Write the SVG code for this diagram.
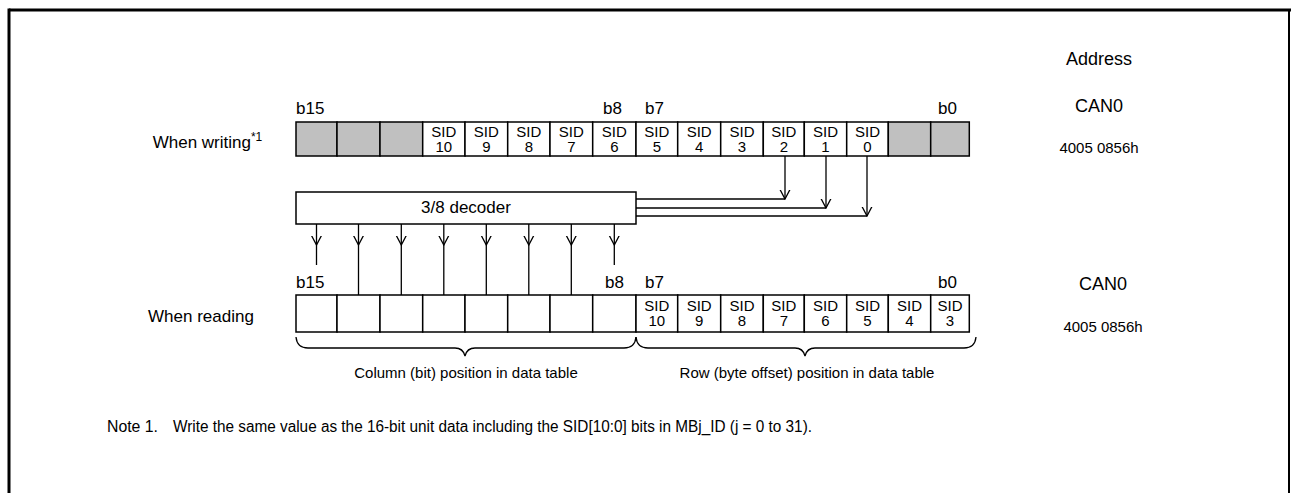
<svg xmlns="http://www.w3.org/2000/svg" width="1291" height="493" viewBox="0 0 1291 493">
<style>
text{font-family:"Liberation Sans",Arial,sans-serif;fill:#000}
.lbl{font-size:17px}
.sid{font-size:15px;text-anchor:middle}
.addr{font-size:18px;text-anchor:middle}
.hex{font-size:15px;text-anchor:middle}
.small{font-size:15px;text-anchor:middle}
.cell{fill:#fff;stroke:#000;stroke-width:1.5}
.grey{fill:#c0c0c0;stroke:#000;stroke-width:1.5}
.ln{fill:none;stroke:#000;stroke-width:1.3}
</style>
<defs>
<marker id="v" viewBox="0 0 10 12" refX="9.5" refY="6" markerWidth="10" markerHeight="12" markerUnits="userSpaceOnUse" orient="auto">
<path d="M0,1 L9.5,6 L0,11" fill="none" stroke="#000" stroke-width="1.3"/>
</marker>
</defs>
<rect width="1291" height="493" fill="#fff"/>
<g id="frame">
<line x1="9" y1="10" x2="1291" y2="10" stroke="#000" stroke-width="3"/>
<line x1="9" y1="8.5" x2="9" y2="493" stroke="#000" stroke-width="3"/>
<line x1="1289" y1="10" x2="1289" y2="493" stroke="#000" stroke-width="2"/>
</g>
<g id="address-labels">
<text class="addr" x="1099" y="65">Address</text>
<text class="addr" x="1099" y="112">CAN0</text>
<text class="hex" x="1099" y="153">4005 0856h</text>
<text class="addr" x="1103" y="290">CAN0</text>
<text class="hex" x="1103" y="332">4005 0856h</text>
</g>
<g id="write-register">
<text class="lbl" x="152.7" y="148">When writing<tspan font-size="12" dy="-7">*1</tspan></text>
<text class="lbl" x="296" y="114">b15</text>
<text class="lbl" x="603" y="114">b8</text>
<text class="lbl" x="645" y="114">b7</text>
<text class="lbl" x="938" y="114">b0</text>
<rect class="grey" x="296" y="122" width="41" height="34"/>
<rect class="grey" x="337" y="122" width="43" height="34"/>
<rect class="grey" x="380" y="122" width="42.7" height="34"/>
<rect class="cell" x="422.7" y="122" width="42.3" height="34"/>
<rect class="cell" x="465" y="122" width="42.7" height="34"/>
<rect class="cell" x="507.7" y="122" width="42.3" height="34"/>
<rect class="cell" x="550" y="122" width="42.7" height="34"/>
<rect class="cell" x="592.7" y="122" width="43.3" height="34"/>
<rect class="cell" x="636" y="122" width="41.7" height="34"/>
<rect class="cell" x="677.7" y="122" width="43" height="34"/>
<rect class="cell" x="720.7" y="122" width="42.6" height="34"/>
<rect class="cell" x="763.3" y="122" width="41" height="34"/>
<rect class="cell" x="804.3" y="122" width="42.4" height="34"/>
<rect class="cell" x="846.7" y="122" width="41.6" height="34"/>
<rect class="grey" x="888.3" y="122" width="42.4" height="34"/>
<rect class="grey" x="930.7" y="122" width="38.6" height="34"/>
<text class="sid" x="443.8" y="137">SID</text><text class="sid" x="443.8" y="152">10</text>
<text class="sid" x="486.3" y="137">SID</text><text class="sid" x="486.3" y="152">9</text>
<text class="sid" x="528.8" y="137">SID</text><text class="sid" x="528.8" y="152">8</text>
<text class="sid" x="571.3" y="137">SID</text><text class="sid" x="571.3" y="152">7</text>
<text class="sid" x="614.3" y="137">SID</text><text class="sid" x="614.3" y="152">6</text>
<text class="sid" x="656.8" y="137">SID</text><text class="sid" x="656.8" y="152">5</text>
<text class="sid" x="699.2" y="137">SID</text><text class="sid" x="699.2" y="152">4</text>
<text class="sid" x="742" y="137">SID</text><text class="sid" x="742" y="152">3</text>
<text class="sid" x="783.8" y="137">SID</text><text class="sid" x="783.8" y="152">2</text>
<text class="sid" x="825.5" y="137">SID</text><text class="sid" x="825.5" y="152">1</text>
<text class="sid" x="867.5" y="137">SID</text><text class="sid" x="867.5" y="152">0</text>
</g>
<g id="decoder">
<rect class="cell" x="296" y="192" width="340" height="32"/>
<text class="lbl" x="466" y="213" text-anchor="middle">3/8 decoder</text>
</g>
<g id="read-register">
<text class="lbl" x="148" y="322">When reading</text>
<text class="lbl" x="296" y="288">b15</text>
<text class="lbl" x="605" y="288">b8</text>
<text class="lbl" x="645" y="288">b7</text>
<text class="lbl" x="938" y="288">b0</text>
<rect class="cell" x="296" y="295" width="41" height="37"/>
<rect class="cell" x="337" y="295" width="43" height="37"/>
<rect class="cell" x="380" y="295" width="42.7" height="37"/>
<rect class="cell" x="422.7" y="295" width="42.3" height="37"/>
<rect class="cell" x="465" y="295" width="42.7" height="37"/>
<rect class="cell" x="507.7" y="295" width="42.3" height="37"/>
<rect class="cell" x="550" y="295" width="42.7" height="37"/>
<rect class="cell" x="592.7" y="295" width="43.3" height="37"/>
<rect class="cell" x="636" y="295" width="41.7" height="37"/>
<rect class="cell" x="677.7" y="295" width="43" height="37"/>
<rect class="cell" x="720.7" y="295" width="42.6" height="37"/>
<rect class="cell" x="763.3" y="295" width="41" height="37"/>
<rect class="cell" x="804.3" y="295" width="42.4" height="37"/>
<rect class="cell" x="846.7" y="295" width="41.6" height="37"/>
<rect class="cell" x="888.3" y="295" width="42.4" height="37"/>
<rect class="cell" x="930.7" y="295" width="38.6" height="37"/>
<text class="sid" x="656.8" y="311">SID</text><text class="sid" x="656.8" y="326">10</text>
<text class="sid" x="699.2" y="311">SID</text><text class="sid" x="699.2" y="326">9</text>
<text class="sid" x="742" y="311">SID</text><text class="sid" x="742" y="326">8</text>
<text class="sid" x="783.8" y="311">SID</text><text class="sid" x="783.8" y="326">7</text>
<text class="sid" x="825.5" y="311">SID</text><text class="sid" x="825.5" y="326">6</text>
<text class="sid" x="867.5" y="311">SID</text><text class="sid" x="867.5" y="326">5</text>
<text class="sid" x="909.5" y="311">SID</text><text class="sid" x="909.5" y="326">4</text>
<text class="sid" x="950" y="311">SID</text><text class="sid" x="950" y="326">3</text>
</g>
<g id="braces">
<path class="ln" d="M296,337 Q297,348 308,348 L455,348 Q463,348 465,356 Q467,348 475,348 L624,348 Q635,348 636,337"/>
<path class="ln" d="M636,337 Q637,348 648,348 L795,348 Q803,348 805,356 Q807,348 815,348 L964,348 Q975,348 976,337"/>
<text class="small" x="466" y="378">Column (bit) position in data table</text>
<text class="small" x="807" y="378">Row (byte offset) position in data table</text>
</g>
<g id="connectors">
<path class="ln" d="M785,156 V199" marker-end="url(#v)"/>
<path class="ln" d="M826,156 V208" marker-end="url(#v)"/>
<path class="ln" d="M867,156 V216" marker-end="url(#v)"/>
<path class="ln" d="M636,199 H785"/>
<path class="ln" d="M636,208 H826"/>
<path class="ln" d="M636,216 H867"/>
<path class="ln" d="M316.5,224 V245" marker-end="url(#v)"/><path class="ln" d="M316.5,245 V265"/>
<path class="ln" d="M358.5,224 V245" marker-end="url(#v)"/><path class="ln" d="M358.5,245 V295"/>
<path class="ln" d="M401.3,224 V245" marker-end="url(#v)"/><path class="ln" d="M401.3,245 V295"/>
<path class="ln" d="M443.8,224 V245" marker-end="url(#v)"/><path class="ln" d="M443.8,245 V295"/>
<path class="ln" d="M486.3,224 V245" marker-end="url(#v)"/><path class="ln" d="M486.3,245 V295"/>
<path class="ln" d="M528.8,224 V245" marker-end="url(#v)"/><path class="ln" d="M528.8,245 V295"/>
<path class="ln" d="M571.3,224 V245" marker-end="url(#v)"/><path class="ln" d="M571.3,245 V295"/>
<path class="ln" d="M614.3,224 V245" marker-end="url(#v)"/><path class="ln" d="M614.3,245 V265"/>
</g>
<g id="note">
<text x="107" y="432" font-size="16" textLength="51" lengthAdjust="spacingAndGlyphs">Note 1.</text>
<text x="173" y="432" font-size="16" textLength="639" lengthAdjust="spacingAndGlyphs">Write the same value as the 16-bit unit data including the SID[10:0] bits in MBj_ID (j = 0 to 31).</text>
</g>
</svg>
